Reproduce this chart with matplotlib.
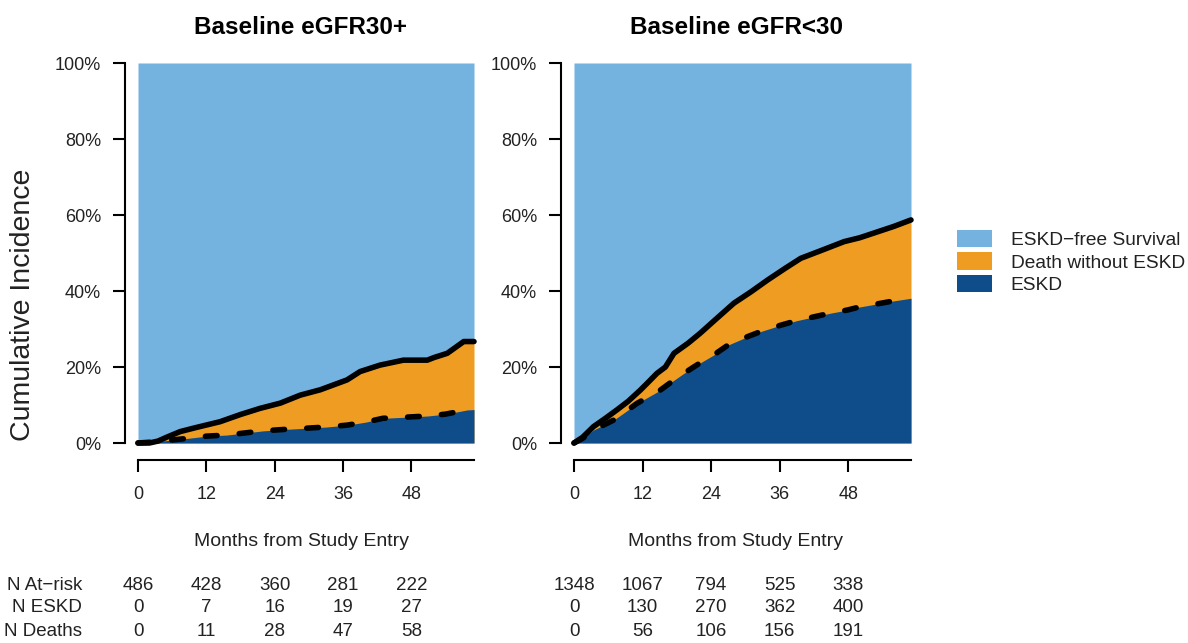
import matplotlib
matplotlib.use("Agg")
import matplotlib.pyplot as plt
import matplotlib.transforms as mtransforms
from matplotlib.patches import Patch

plt.rcParams['font.family'] = ['Liberation Sans', 'DejaVu Sans']

# ---------------- data ----------------
panel_titles = ["Baseline eGFR30+", "Baseline eGFR<30"]
x_ticks = [0, 12, 24, 36, 48]
x_max = 59
y_ticks = [0, 20, 40, 60, 80, 100]
y_tick_labels = ["0%", "20%", "40%", "60%", "80%", "100%"]

# eGFR30+ : total (ESKD + death) cumulative incidence
left_total_x = [0, 2, 3.5, 5, 7.4, 10, 14.4, 18, 21.4, 25, 28.5, 32, 36.7, 39, 42.5,
                46.6, 50.8, 52, 54.3, 57.2, 59]
left_total_y = [0, 0, 0.5, 1.5, 3.0, 4.0, 5.6, 7.5, 9.1, 10.5, 12.6, 14.0, 16.6, 18.8, 20.5,
                21.8, 21.8, 22.5, 23.6, 26.7, 26.7]
# eGFR30+ : ESKD cumulative incidence
left_eskd_x = [0, 3, 6, 8.6, 12, 15.6, 22, 26, 29.6, 33, 36.7, 40, 43, 47, 50.8, 54, 57.8, 59]
left_eskd_y = [0, 0.3, 0.8, 1.2, 1.8, 2.1, 3.2, 3.6, 3.9, 4.2, 4.7, 5.5, 6.5, 6.8, 7.1, 7.6, 8.7, 8.8]

# eGFR<30 : total
right_total_x = [0, 1.5, 3.4, 5.5, 7.5, 9.5, 11.6, 13, 14.5, 16, 17.5, 20, 22.1, 25, 28, 31,
                 33.9, 37, 39.7, 43, 47.3, 50, 53.2, 56, 59]
right_total_y = [0, 1.5, 4.3, 6.5, 8.7, 11.0, 13.9, 16.0, 18.3, 20.0, 23.6, 26.3, 28.9, 32.8,
                 36.8, 39.8, 42.9, 46.0, 48.6, 50.5, 53.0, 54.0, 55.6, 57.0, 58.7]
# eGFR<30 : ESKD
right_eskd_x = [0, 1.5, 3.4, 6.9, 9, 11, 15.1, 17, 19.2, 22, 24.5, 27, 30.4, 33, 36.2, 39,
                42, 45, 47.9, 50, 53.8, 56, 59]
right_eskd_y = [0, 1.2, 3.4, 6.0, 8.2, 10.4, 13.9, 16.0, 18.3, 21.0, 23.2, 25.8, 28.0, 29.5,
                31.0, 32.2, 33.2, 34.2, 35.0, 35.8, 36.8, 37.4, 38.1]

table_row_labels = ["N At\u2212risk", "N ESKD", "N Deaths"]
left_at_risk = [486, 428, 360, 281, 222]
left_n_eskd = [0, 7, 16, 19, 27]
left_n_deaths = [0, 11, 28, 47, 58]
right_at_risk = [1348, 1067, 794, 525, 338]
right_n_eskd = [0, 130, 270, 362, 400]
right_n_deaths = [0, 56, 106, 156, 191]

legend_labels = ["ESKD\u2212free Survival", "Death without ESKD", "ESKD"]

# ---------------- style ----------------
c_free = "#74B2E0"
c_death = "#EF9D22"
c_eskd = "#0F4D8A"
txt = "#222222"

W, H = 1188, 643
fig = plt.figure(figsize=(W / 100, H / 100), dpi=100)

def fx(px):
    return px / W

def fy(py):
    return 1 - py / H

axes_px = [(138, 474), (574, 911)]
panels = [
    (left_total_x, left_total_y, left_eskd_x, left_eskd_y,
     [left_at_risk, left_n_eskd, left_n_deaths]),
    (right_total_x, right_total_y, right_eskd_x, right_eskd_y,
     [right_at_risk, right_n_eskd, right_n_deaths]),
]
title_cx = [301, 736]
row_y_px = [585, 608, 631]

for i, ((x0, x1), (tx, ty, ex, ey, table)) in enumerate(zip(axes_px, panels)):
    ax = fig.add_axes([fx(x0), fy(443), fx(x1 - x0), (443 - 63) / H])
    ax.fill_between(tx, ty, 100, color=c_free, linewidth=0, zorder=1)
    ax.fill_between(tx, 0, ty, color=c_death, linewidth=0, zorder=2)
    ax.fill_between(ex, 0, ey, color=c_eskd, linewidth=0, zorder=3)
    ax.plot(tx, ty, color="black", lw=4.0, solid_capstyle="round",
            solid_joinstyle="round", zorder=5, clip_on=False)
    ax.plot(ex, ey, color="black", lw=4.0, linestyle=(0, (2.1, 4.0)),
            dash_capstyle="round", zorder=5, clip_on=False)

    ax.set_xlim(0, x_max)
    ax.set_ylim(0, 100)
    for s in ["top", "right"]:
        ax.spines[s].set_visible(False)
    ax.spines["left"].set_position(("outward", 9.4))
    ax.spines["bottom"].set_position(("outward", 12.2))
    ax.spines["left"].set_bounds(0, 100)
    ax.spines["bottom"].set_bounds(0, x_max)
    ax.spines["left"].set_linewidth(1.5)
    ax.spines["bottom"].set_linewidth(1.5)
    ax.set_xticks(x_ticks)
    ax.set_xticklabels([str(v) for v in x_ticks])
    ax.set_yticks(y_ticks)
    ax.set_yticklabels(y_tick_labels)
    ax.tick_params(axis="both", length=8.6, width=1.5, labelsize=13,
                   colors="black", labelcolor=txt)
    ax.tick_params(axis="y", pad=8.6)
    ax.tick_params(axis="x", pad=10)

    fig.text(fx(title_cx[i]), fy(27), panel_titles[i], ha="center", va="center",
             fontsize=17.5, fontweight="bold")
    fig.text(fx(title_cx[i]), fy(541), "Months from Study Entry", ha="center",
             va="center", fontsize=14, color=txt)

    trans = mtransforms.blended_transform_factory(ax.transData, fig.transFigure)
    for r, row in enumerate(table):
        for xv, val in zip(x_ticks, row):
            ax.text(xv, fy(row_y_px[r]), str(val), transform=trans, ha="center",
                    va="center", fontsize=13.5, color=txt, clip_on=False)

for r, lab in enumerate(table_row_labels):
    fig.text(fx(82), fy(row_y_px[r]), lab, ha="right", va="center",
             fontsize=13.5, color=txt)

fig.text(fx(23), fy(305), "Cumulative Incidence", rotation=90, ha="center",
         va="center", fontsize=20.5, color=txt)

handles = [Patch(facecolor=c, edgecolor="none") for c in (c_free, c_death, c_eskd)]
fig.legend(handles, legend_labels, loc="center left",
           bbox_to_anchor=(fx(957), fy(262)), frameon=False, fontsize=13.8,
           handlelength=1.85, handleheight=1.0, handletextpad=0.95,
           labelspacing=0.18, borderpad=0, borderaxespad=0, labelcolor=txt)

fig.savefig("out.png", dpi=100)
